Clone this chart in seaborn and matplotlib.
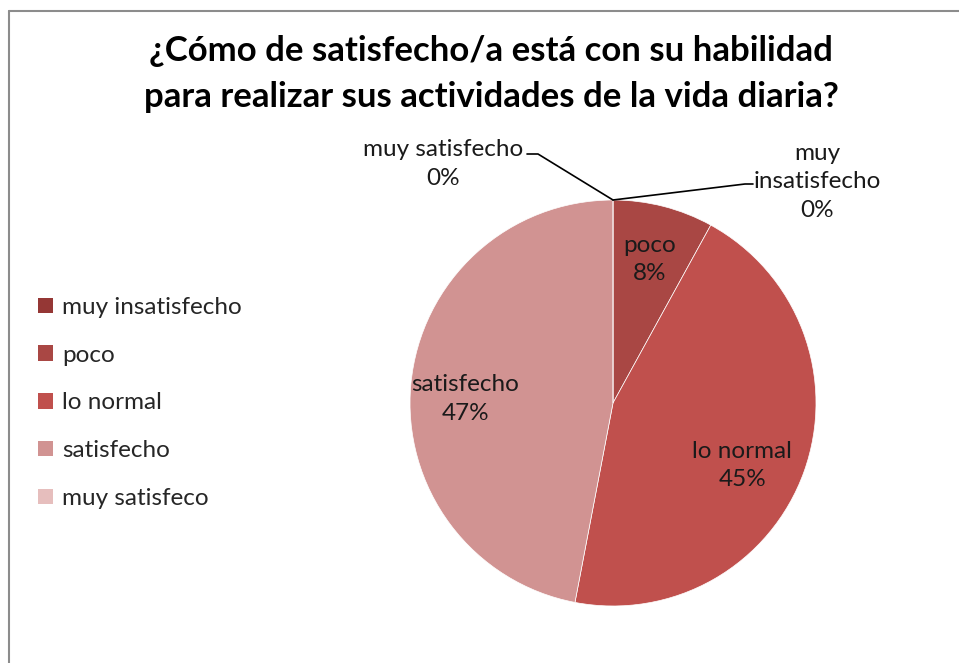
import numpy as np
import matplotlib
matplotlib.use("Agg")
import matplotlib.pyplot as plt
import seaborn as sns
from matplotlib.patches import Patch
from matplotlib.lines import Line2D

# ---- data ----
title = "¿Cómo de satisfecho/a está con su habilidad\npara realizar sus actividades de la vida diaria?"
categories = ["muy insatisfecho", "poco", "lo normal", "satisfecho", "muy satisfecho"]
legend_labels = ["muy insatisfecho", "poco", "lo normal", "satisfecho", "muy satisfeco"]
values = [0, 8, 45, 47, 0]
colors = ["#953735", "#A94744", "#C0504D", "#D19392", "#E6BEBD"]

sns.set_theme(style="white")
plt.rcParams["font.family"] = ["Lato", "DejaVu Sans"]

W, H = 959, 663
fig = plt.figure(figsize=(W / 100, H / 100), dpi=100)
fig.patch.set_facecolor("white")

# chart frame (top and left edges visible)
fig.add_artist(Line2D([9 / W, 9 / W], [0, 1 - 11 / H], color="#8c8c8c", lw=1.5, transform=fig.transFigure))
fig.add_artist(Line2D([9 / W, 1], [1 - 11 / H, 1 - 11 / H], color="#8c8c8c", lw=1.5, transform=fig.transFigure))

cx, cy, R = 613, 403, 203
ax = fig.add_axes([(cx - R) / W, (H - cy - R) / H, 2 * R / W, 2 * R / H])
wedges, _ = ax.pie(values, colors=colors, startangle=90, counterclock=False,
                   wedgeprops=dict(linewidth=0.5, edgecolor="white"), radius=1)
ax.set_xlim(-1, 1)
ax.set_ylim(-1, 1)
ax.set_aspect("auto")
ax.axis("off")

fs = 17.5
ls = 1.45
# inside labels
for i, w in enumerate(wedges):
    if values[i] == 0:
        continue
    mid = np.deg2rad((w.theta1 + w.theta2) / 2)
    d = 0.73
    x, y = d * np.cos(mid), d * np.sin(mid)
    if categories[i] == "lo normal":
        x, y = x - 0.05, y - 0.06
    if categories[i] == "satisfecho":
        y = y - 0.05
    ax.text(x, y, f"{categories[i]}\n{values[i]}%", ha="center", va="center",
            fontsize=fs, color="#1a1a1a", linespacing=ls)

# outside labels with leader lines for zero slices
top = (0, 1)
def px(xp, yp):
    return ((xp - cx) / R, (cy - yp) / R)

# muy satisfecho (last)
x1, y1 = px(538, 154)
x0, y0 = px(527, 154)
ax.plot([top[0], x1, x0], [top[1], y1, y0], color="black", lw=1.2, clip_on=False)
lx, ly = px(443, 164)
ax.text(lx, ly, f"{categories[4]}\n{values[4]}%", ha="center", va="center",
        fontsize=fs, color="#1a1a1a", linespacing=ls)

# muy insatisfecho (first)
x1, y1 = px(745, 184)
x0, y0 = px(753, 184)
ax.plot([top[0], x1, x0], [top[1], y1, y0], color="black", lw=1.2, clip_on=False)
lx, ly = px(817, 182)
ax.text(lx, ly, "muy\ninsatisfecho\n" + f"{values[0]}%", ha="center", va="center",
        fontsize=fs, color="#1a1a1a", linespacing=ls)

# title
fig.text(491 / W, 1 - 74 / H, title, ha="center", va="center", fontsize=25,
         fontweight="bold", color="black", linespacing=1.55)

# legend
handles = [Patch(facecolor=c, edgecolor="none") for c in colors]
fig.legend(handles, legend_labels, loc="center left", bbox_to_anchor=(38 / W, 1 - 403 / H),
           frameon=False, fontsize=fs, labelspacing=1.1, handlelength=0.6, handleheight=0.6,
           handletextpad=0.4, borderaxespad=0, borderpad=0)

fig.savefig("out.png", dpi=100, facecolor="white")
